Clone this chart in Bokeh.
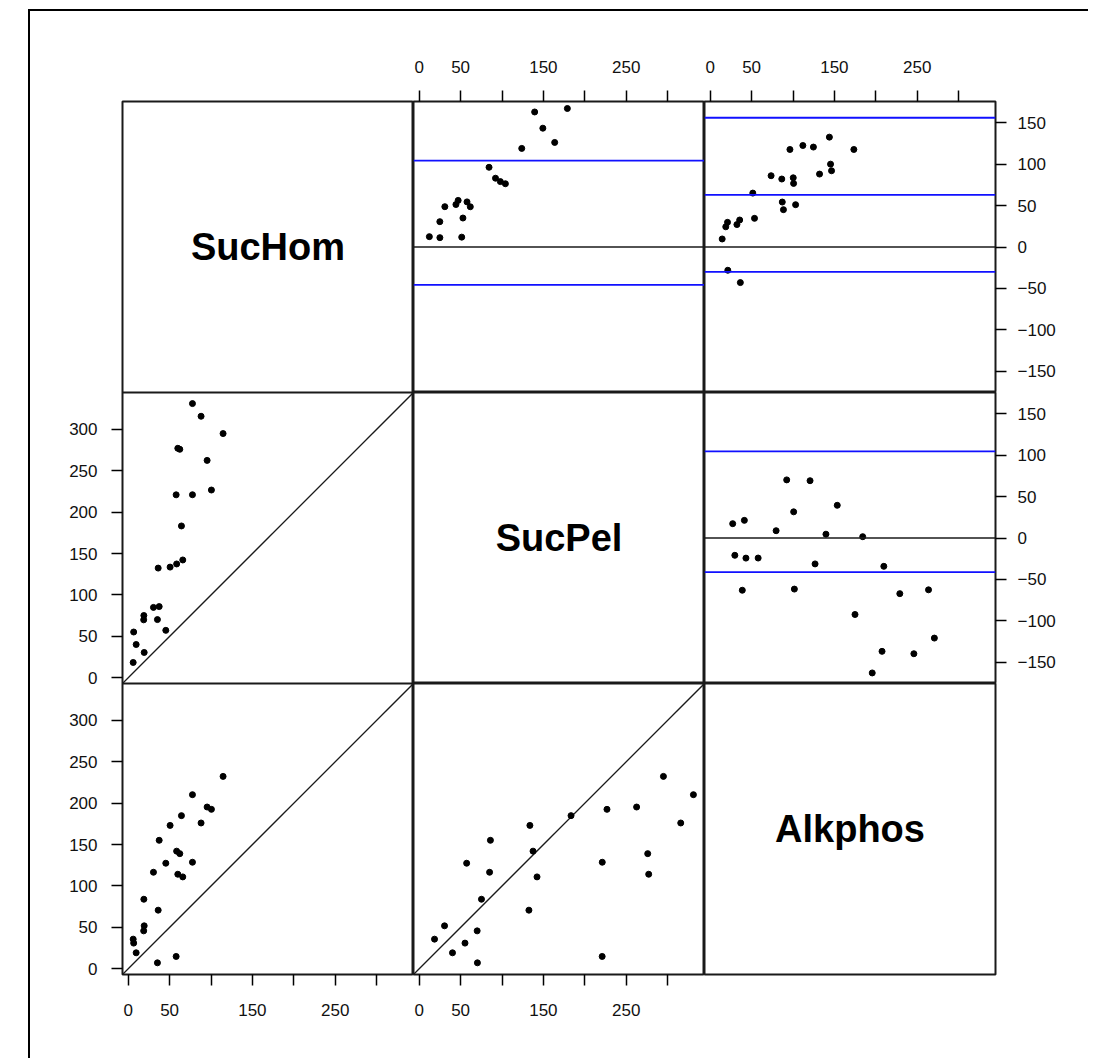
import numpy as np
from bokeh.plotting import figure
from bokeh.layouts import column
from bokeh.models import (Range1d, LinearAxis, FixedTicker, Span, Label, ColumnDataSource,
                          GridPlot)
from bokeh.embed import file_html
from bokeh.resources import INLINE

# ---- data (24 subjects) ----
names = ["SucHom", "SucPel", "Alkphos"]
suchom = [114.6, 77.6, 95.3, 100.5, 64.3, 88.0, 50.6, 37.4, 58.5, 62.3, 45.4, 77.6,
          30.5, 59.9, 65.9, 18.9, 36.2, 19.3, 18.7, 6.0, 6.6, 9.6, 57.9, 35.3]
sucpel = [295.0, 331.2, 262.6, 226.8, 183.4, 315.9, 133.7, 86.0, 137.5, 276.0, 57.3, 221.1,
          85.0, 277.2, 142.3, 75.2, 132.5, 30.6, 70.0, 18.5, 55.3, 40.2, 221.0, 70.3]
alkphos = [232.4, 210.3, 195.4, 192.6, 185.0, 176.1, 173.2, 155.2, 142.1, 139.1, 127.5, 128.7,
           116.6, 114.2, 111.0, 84.0, 70.8, 51.9, 45.8, 35.8, 31.0, 19.3, 14.9, 7.2]

# mean difference / limits of agreement lines (blue)
loa_pel_hom = [-45.7, 104.4]
loa_alk_hom = [-30.0, 63.0, 156.1]
loa_alk_pel = [-41.3, 104.7]

# ticks
xticks = [0, 50, 100, 150, 200, 250, 300]
x_tick_labels = ["0", "50", "", "150", "", "250", ""]
yticks_lower = [0, 50, 100, 150, 200, 250, 300]
yticks_diff = [-150, -100, -50, 0, 50, 100, 150]
diff_tick_labels = ["\u2212150", "\u2212100", "\u221250", "0", "50", "100", "150"]

vals = [np.array(suchom), np.array(sucpel), np.array(alkphos)]
loas = {(0, 1): loa_pel_hom, (0, 2): loa_alk_hom, (1, 2): loa_alk_pel}

XR = (-6.9, 344.6)
W = XR[1] - XR[0]
DR = (-W / 2, W / 2)
FONT = "Liberation Sans"
FW = 291
BL, BR, BT, BB = 92, 93, 90, 84
LINE = "#1a1a1a"


def style_axis(ax, ticks, labels=None, standoff=12):
    ax.ticker = FixedTicker(ticks=ticks)
    if labels is not None:
        ax.major_label_overrides = {t: l for t, l in zip(ticks, labels)}
    ax.axis_line_color = None
    ax.major_tick_out = 11
    ax.major_tick_in = 0
    ax.major_tick_line_color = "black"
    ax.major_tick_line_width = 1.5
    ax.minor_tick_line_color = None
    ax.major_label_text_font = FONT
    ax.major_label_text_font_size = "17px"
    ax.major_label_text_color = "#111111"
    ax.major_label_standoff = standoff


def base_fig(**kw):
    p = figure(output_backend="svg", toolbar_location=None,
               x_axis_location=None, y_axis_location=None, min_border=0, **kw)
    p.xgrid.visible = False
    p.ygrid.visible = False
    p.outline_line_color = LINE
    p.outline_line_width = 2
    p.background_fill_color = "white"
    p.border_fill_color = "white"
    return p


def diag_label(p, name, **kw):
    p.add_layout(Label(x=(XR[0] + XR[1]) / 2, y=(XR[0] + XR[1]) / 2, text=name,
                       text_align="center", text_baseline="middle",
                       text_font=FONT, text_font_size="38px", text_font_style="bold",
                       text_color="black", **kw))


# ---- column 1: one tall figure holding SucHom (label), SucPel~SucHom, Alkphos~SucHom ----
p1 = base_fig(frame_width=FW, frame_height=3 * FW,
              x_range=Range1d(*XR), y_range=Range1d(XR[0], XR[0] + 3 * W),
              min_border_left=BL, min_border_top=BT, min_border_bottom=BB)
p1.extra_y_ranges = {"r2": Range1d(XR[0] - W, XR[0] + 2 * W),
                     "r1": Range1d(XR[0] - 2 * W, XR[0] + W)}
for rng, yv in (("default", vals[2]), ("r2", vals[1])):
    p1.line(list(XR), list(XR), line_color=LINE, line_width=1.3, y_range_name=rng)
    p1.scatter(vals[0], yv, size=6, color="black", y_range_name=rng)
diag_label(p1, names[0], y_range_name="r1")
for k in (1, 2):
    p1.add_layout(Span(location=XR[1] + (k - 1) * W, dimension="width",
                       line_color=LINE, line_width=2))
ax = LinearAxis()
lticks = yticks_lower + [t + W for t in yticks_lower]
style_axis(ax, lticks, [str(t) for t in yticks_lower] * 2, standoff=14)
p1.add_layout(ax, "left")
ax = LinearAxis()
style_axis(ax, xticks, x_tick_labels, standoff=18)
p1.add_layout(ax, "below")

children = [(p1, 0, 0, 3, 1)]

# ---- columns 2 and 3 ----
for r in range(3):
    for c in (1, 2):
        yr = DR if r < c else XR
        p = base_fig(frame_width=FW, frame_height=FW,
                     x_range=Range1d(*XR), y_range=Range1d(*yr),
                     min_border_right=BR if c == 2 else 0,
                     min_border_top=BT if r == 0 else 0,
                     min_border_bottom=BB if r == 2 else 0)
        if r == c:
            diag_label(p, names[r])
        elif r > c:
            p.line(list(XR), list(XR), line_color=LINE, line_width=1.3)
            src = ColumnDataSource(dict(x=vals[c], y=vals[r]))
            p.scatter("x", "y", source=src, size=6, color="black")
        else:
            a, b = vals[r], vals[c]
            src = ColumnDataSource(dict(x=(a + b) / 2, y=b - a))
            p.add_layout(Span(location=0, dimension="width", line_color=LINE, line_width=1.5))
            for v in loas[(r, c)]:
                p.add_layout(Span(location=v, dimension="width", line_color="#1010ff",
                                  line_width=1.8))
            p.scatter("x", "y", source=src, size=6, color="black")

        if r == 0:
            ax = LinearAxis()
            style_axis(ax, xticks, x_tick_labels, standoff=18)
            p.add_layout(ax, "above")
        if r == 2 and c == 1:
            ax = LinearAxis()
            style_axis(ax, xticks, x_tick_labels, standoff=18)
            p.add_layout(ax, "below")
        if c == 2 and r <= 1:
            ax = LinearAxis()
            style_axis(ax, yticks_diff, diff_tick_labels, standoff=11)
            p.add_layout(ax, "right")
        children.append((p, r, c))

grid = GridPlot(children=children, toolbar_location=None)
page = column(grid, styles={"border-top": "2px solid black", "border-left": "2px solid black",
                            "margin-left": "28px", "margin-top": "9px"})

open("out.html", "w").write(file_html(page, INLINE))
